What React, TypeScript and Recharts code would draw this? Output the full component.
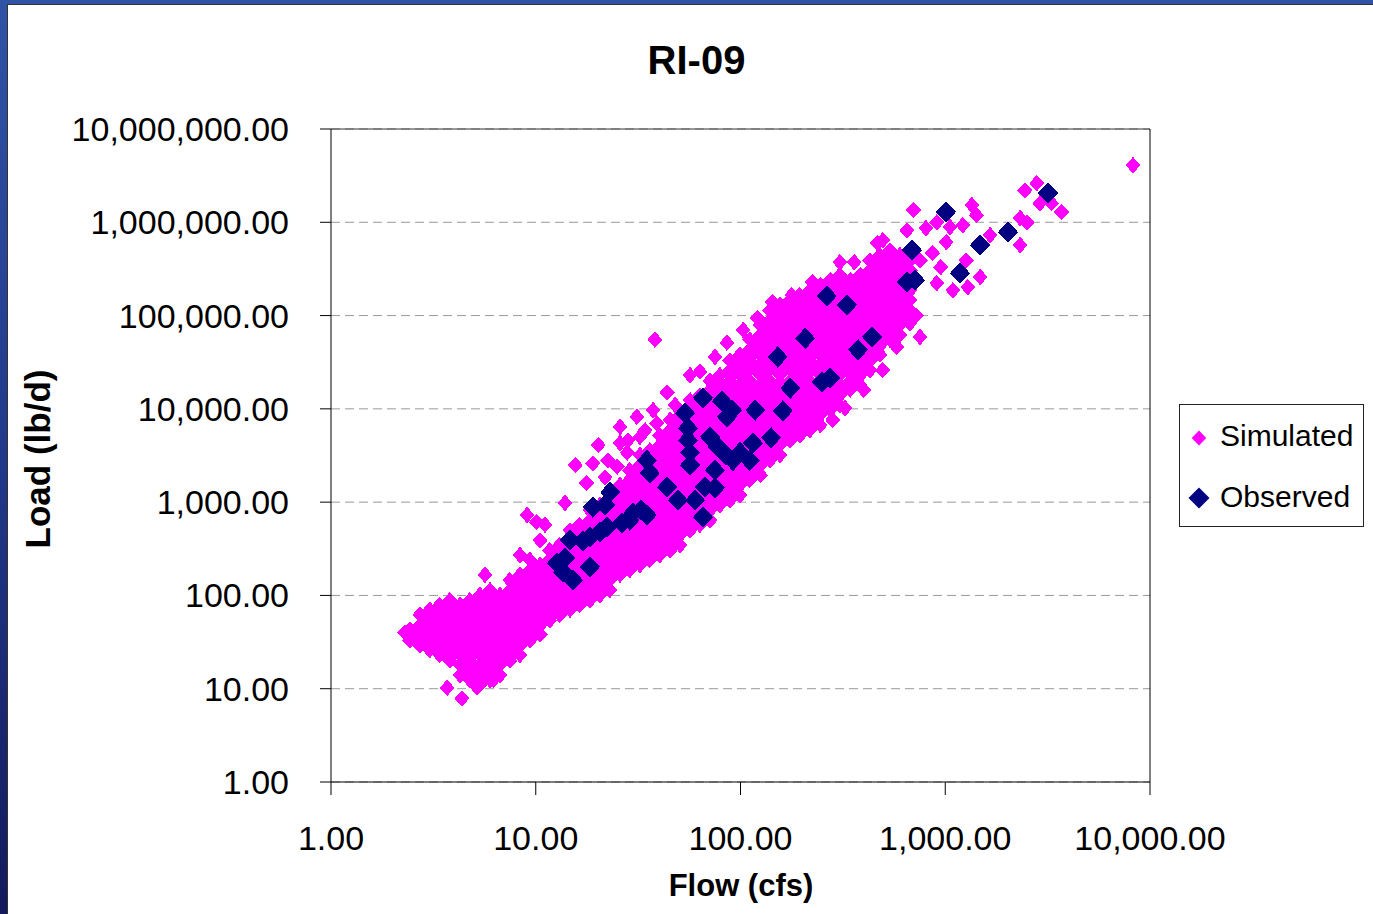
import React from 'react';
import {
  ScatterChart,
  Scatter,
  XAxis,
  YAxis,
  CartesianGrid,
  ReferenceLine,
} from 'recharts';

const FONT = '"Liberation Sans", Arial, sans-serif';

const xTicks = [1, 10, 100, 1000, 10000];
const yTicks = [1, 10, 100, 1000, 10000, 100000, 1000000, 10000000];

// Simulated cloud, read column by column (flow, loads from top to bottom of the band)
const simulatedColumns: [number, number[]][] = [
  [2.43, [43, 33]],
  [2.72, [62, 48, 38, 29]],
  [3.04, [70, 54, 43, 33, 26]],
  [3.4, [79, 62, 48, 38, 29, 23]],
  [3.81, [89, 70, 54, 43, 33, 26, 20]],
  [4.27, [79, 62, 48, 38, 29, 23, 18, 14]],
  [4.77, [89, 70, 54, 43, 33, 26, 20, 16, 12.4]],
  [5.34, [101, 79, 62, 48, 38, 29, 23, 18, 14, 11]],
  [5.98, [114, 89, 70, 54, 43, 33, 26, 20, 16, 12.4]],
  [6.69, [101, 79, 62, 48, 38, 29, 23, 18, 14]],
  [7.48, [146, 114, 89, 70, 54, 43, 33, 26, 20]],
  [8.38, [166, 129, 101, 79, 62, 48, 38, 29, 23]],
  [9.37, [240, 187, 146, 114, 89, 70, 54, 43, 33]],
  [10.5, [212, 166, 129, 101, 79, 62, 48, 38]],
  [11.7, [305, 240, 187, 146, 114, 89, 70, 54]],
  [13.1, [347, 271, 212, 166, 129, 101, 79, 62]],
  [14.7, [500, 390, 305, 240, 187, 146, 114, 89, 70]],
  [16.4, [570, 444, 347, 271, 212, 166, 129, 101, 79]],
  [18.4, [820, 640, 500, 390, 305, 240, 187, 146, 114, 89]],
  [20.6, [930, 730, 570, 444, 347, 271, 212, 166, 129, 101]],
  [23.0, [1350, 1050, 820, 640, 500, 390, 305, 240, 187, 146, 114]],
  [25.8, [1525, 1190, 930, 730, 570, 444, 347, 271, 212, 166]],
  [28.8, [2200, 1730, 1350, 1050, 820, 640, 500, 390, 305, 240, 187]],
  [32.3, [3200, 2500, 1950, 1525, 1190, 930, 730, 570, 444, 347, 271, 212]],
  [36.1, [3600, 2800, 2200, 1730, 1350, 1050, 820, 640, 500, 390, 305, 240]],
  [40.4, [5200, 4100, 3200, 2500, 1950, 1525, 1190, 930, 730, 570, 444, 347, 271]],
  [45.3, [7600, 5900, 4600, 3600, 2800, 2200, 1730, 1350, 1050, 820, 640, 500, 390, 305]],
  [50.7, [8600, 6700, 5200, 4100, 3200, 2500, 1950, 1525, 1190, 930, 730, 570, 444, 347]],
  [56.7, [12400, 9700, 7600, 5900, 4600, 3600, 2800, 2200, 1730, 1350, 1050, 820, 640, 500]],
  [63.4, [14000, 11000, 8600, 6700, 5200, 4100, 3200, 2500, 1950, 1525, 1190, 930, 730, 570]],
  [71, [20000, 16000, 12400, 9700, 7600, 5900, 4600, 3600, 2800, 2200, 1730, 1350, 1050, 820, 640]],
  [79.4, [23000, 18000, 14000, 11000, 8600, 6700, 5200, 4100, 3200, 2500, 1950, 1525, 1190, 930]],
  [88.9, [33000, 26000, 20000, 16000, 12400, 9700, 7600, 5900, 4600, 3600, 2800, 2200, 1730, 1350, 1050]],
  [99.5, [38000, 29500, 23000, 18000, 14000, 11000, 8600, 6700, 5200, 4100, 3200, 2500, 1950, 1525, 1190]],
  [111, [55000, 43000, 33000, 26000, 20000, 16000, 12400, 9700, 7600, 5900, 4600, 3600, 2800, 2200, 1730]],
  [125, [79000, 62000, 48000, 38000, 29500, 23000, 18000, 14000, 11000, 8600, 6700, 5200, 4100, 3200, 2500, 1950]],
  [139, [114000, 89000, 70000, 55000, 43000, 33000, 26000, 20000, 16000, 12400, 9700, 7600, 5900, 4600, 3600, 2800]],
  [156, [130000, 101000, 79000, 62000, 48000, 38000, 29500, 23000, 18000, 14000, 11000, 8600, 6700, 5200, 4100, 3200]],
  [175, [147000, 114000, 89000, 70000, 55000, 43000, 33000, 26000, 20000, 16000, 12400, 9700, 7600, 5900, 4600]],
  [195, [166000, 130000, 101000, 79000, 62000, 48000, 38000, 29500, 23000, 18000, 14000, 11000, 8600, 6700, 5200]],
  [218, [187000, 147000, 114000, 89000, 70000, 55000, 43000, 33000, 26000, 20000, 16000, 12400, 9700, 7600, 5900]],
  [245, [212000, 166000, 130000, 101000, 79000, 62000, 48000, 38000, 29500, 23000, 18000, 14000, 11000, 8600, 6700]],
  [274, [240000, 187000, 147000, 114000, 89000, 70000, 55000, 43000, 33000, 26000, 20000, 16000, 12400, 9700]],
  [306, [272000, 212000, 166000, 130000, 101000, 79000, 62000, 48000, 38000, 29500, 23000, 18000, 14000, 11000]],
  [343, [240000, 187000, 147000, 114000, 89000, 70000, 55000, 43000, 33000, 26000, 20000, 16000]],
  [384, [272000, 212000, 166000, 130000, 101000, 79000, 62000, 48000, 38000, 29500, 23000, 18000]],
  [429, [390000, 305000, 240000, 187000, 147000, 114000, 89000, 70000, 55000, 43000, 33000, 26000]],
  [480, [445000, 348000, 272000, 212000, 166000, 130000, 101000, 79000, 62000, 48000, 38000]],
  [537, [500000, 390000, 305000, 240000, 187000, 147000, 114000, 89000, 70000, 55000]],
  [601, [445000, 348000, 272000, 212000, 166000, 130000, 101000, 79000, 62000]],
  [673, [390000, 305000, 240000, 187000, 147000, 114000, 89000]],
];

// Loose simulated points around the edges of the band
const simulatedScatter: [number, number][] = [
  [2.3, 40], [3.69, 10.2], [4.36, 7.9], [5.16, 10.4], [6.2, 12.4], [5.65, 166],
  [8.38, 271], [9.07, 728], [10.1, 612], [10.5, 390], [11.1, 570], [13.9, 980],
  [15.6, 2500], [17.7, 1600], [19, 2600], [20.2, 4100], [21.8, 1850], [22.5, 2800],
  [25, 2400], [25.8, 6400], [25.8, 4300], [28, 3400], [28.2, 4600], [31.2, 8200],
  [32.3, 5000], [34.2, 5900], [37.4, 9700], [39, 7000], [38.2, 55000], [43.8, 15000],
  [47.9, 11000], [56.7, 23000], [63.4, 25000], [75.1, 36000], [85.9, 51000],
  [103, 70000], [121, 94000], [143, 140000], [178, 166000], [225, 229000],
  [306, 374000], [359, 374000], [465, 599000], [495, 640000], [650, 820000],
  [700, 1350000], [805, 867000], [910, 1000000], [1055, 889000], [1220, 933000],
  [1350, 1530000], [1420, 1190000], [1010, 614000], [1655, 729000], [1265, 390000],
  [1480, 259000], [1290, 202000], [1090, 187000], [910, 223000], [865, 468000],
  [753, 390000], [2320, 1110000], [2510, 1000000], [2320, 570000], [2450, 2200000],
  [2800, 2630000], [2900, 1600000], [3300, 1600000], [3700, 1290000], [8260, 4100000],
  [673, 83000], [601, 120000], [580, 46000], [495, 26000], [753, 59000], [720, 100000],
  [400, 16000], [282, 7600], [324, 10200], [560, 260000], [620, 200000], [950, 330000],
];

const observed: [number, number][] = [
  [3177, 2060000], [1008, 1290000], [2025, 785000], [1479, 570000], [688, 504000],
  [1180, 285000], [650, 229000], [711, 240000], [264, 162000], [331, 130000],
  [207, 57000], [439, 59000], [375, 43000], [152, 36000], [175, 16700], [250, 19400],
  [274, 21400], [118, 9700], [161, 9500], [65.6, 13100], [81.2, 12100], [90.9, 9700],
  [85.9, 8200], [53.6, 9000], [55.4, 6200], [55.4, 4600], [56.7, 3400], [56.7, 2500],
  [71, 5000], [77.6, 3900], [85, 3200], [91.9, 2800], [99.5, 3400], [111, 2800],
  [115, 4300], [141, 4900], [34.9, 2800], [36.1, 2050], [75, 2200], [67, 1450],
  [75, 1420], [43.8, 1450], [49.5, 1050], [60, 1050], [65.6, 692], [23.1, 1280],
  [19, 886], [21.8, 931], [29.9, 764], [32.7, 823], [34.9, 728], [28.8, 643],
  [26.4, 597], [22.3, 541], [20.6, 478], [18.4, 423], [17, 383], [14.7, 393],
  [13.9, 252], [12.7, 222], [13.6, 178], [15.2, 146], [18.4, 202],
];

const simulatedData = [
  ...simulatedColumns.flatMap(([flow, loads]) => loads.map((load) => ({ x: flow, y: load }))),
  ...simulatedScatter.map(([x, y]) => ({ x, y })),
];
const observedData = observed.map(([x, y]) => ({ x, y }));

const fmt = (v: number) =>
  v.toLocaleString('en-US', { minimumFractionDigits: 2, maximumFractionDigits: 2 });

function diamond(rx: number, ry: number) {
  return (props: any) => {
    const { cx, cy, fill } = props;
    if (cx == null || cy == null) return <g />;
    return (
      <path
        d={`M${cx},${cy - ry}L${cx + rx},${cy}L${cx},${cy + ry}L${cx - rx},${cy}Z`}
        fill={fill}
        shapeRendering="crispEdges"
      />
    );
  };
}

const PINK = '#ff00ff';
const NAVY = '#000080';

export default function App() {
  return (
    <div
      style={{
        position: 'fixed',
        left: 0,
        top: 0,
        width: 1373,
        height: 914,
        background: 'linear-gradient(180deg, #3053a6 0%, #22398a 50%, #141a5c 100%)',
        fontFamily: FONT,
      }}
    >
      <div
        style={{
          position: 'absolute',
          left: 7,
          top: 4,
          width: 1366,
          height: 910,
          background: '#fff',
          borderTop: '1px solid #333',
          borderLeft: '1px solid #333',
          boxSizing: 'border-box',
        }}
      />
      <svg
        width={1373}
        height={914}
        style={{ position: 'absolute', left: 0, top: 0 }}
      >
        <text x={696.5} y={74} textAnchor="middle" fontSize={40} fontWeight="bold" fontFamily={FONT}>
          RI-09
        </text>
        <text x={741} y={896} textAnchor="middle" fontSize={31} fontWeight="bold" fontFamily={FONT}>
          Flow (cfs)
        </text>
        <text
          transform="translate(50,459) rotate(-90)"
          textAnchor="middle"
          fontSize={35}
          fontWeight="bold"
          fontFamily={FONT}
        >
          Load (lb/d)
        </text>
      </svg>
      <div style={{ position: 'absolute', left: 0, top: 0 }}>
        <ScatterChart
          width={1373}
          height={914}
          margin={{ top: 129, right: 223, bottom: 72, left: 81 }}
          style={{ fontFamily: FONT }}
        >
          <CartesianGrid
            vertical={false}
            stroke="#999"
            strokeDasharray="9 5"
          />
          <XAxis
            type="number"
            dataKey="x"
            scale="log"
            domain={[1, 10000]}
            ticks={xTicks}
            allowDataOverflow
            interval={0}
            height={60}
            tickFormatter={fmt}
            tick={{ fill: '#000', fontSize: 34, fontFamily: FONT }}
            tickSize={13}
            tickMargin={31}
            axisLine={{ stroke: '#000' }}
            tickLine={{ stroke: '#000' }}
          />
          <YAxis
            type="number"
            dataKey="y"
            scale="log"
            domain={[1, 10000000]}
            ticks={yTicks}
            allowDataOverflow
            interval={0}
            width={250}
            tickFormatter={fmt}
            tick={{ fill: '#000', fontSize: 34, fontFamily: FONT }}
            tickSize={11}
            tickMargin={31}
            axisLine={{ stroke: '#000' }}
            tickLine={{ stroke: '#000' }}
          />
          <ReferenceLine y={10000000} stroke="#333" strokeWidth={1} />
          <ReferenceLine x={10000} stroke="#000" strokeWidth={1} />
          <Scatter
            name="Simulated"
            data={simulatedData}
            fill={PINK}
            shape={diamond(7.6, 8.2)}
            isAnimationActive={false}
          />
          <Scatter
            name="Observed"
            data={observedData}
            fill={NAVY}
            shape={diamond(10, 10.8)}
            isAnimationActive={false}
          />
        </ScatterChart>
      </div>
      {/* Legend */}
      <div
        style={{
          position: 'absolute',
          left: 1179,
          top: 404,
          width: 185,
          height: 123,
          border: '1px solid #222',
          boxSizing: 'border-box',
          background: '#fff',
        }}
      >
        <svg width={183} height={121} style={{ position: 'absolute', left: 0, top: 0 }}>
          <path d="M19,25.5L26.3,33L19,40.5L11.7,33Z" fill={PINK} />
          <path d="M19,82.5L29.5,93L19,103.5L8.5,93Z" fill={NAVY} />
          <text x={40} y={41} fontSize={30} fontFamily={FONT} fill="#000">
            Simulated
          </text>
          <text x={40} y={102} fontSize={30} fontFamily={FONT} fill="#000">
            Observed
          </text>
        </svg>
      </div>
    </div>
  );
}
